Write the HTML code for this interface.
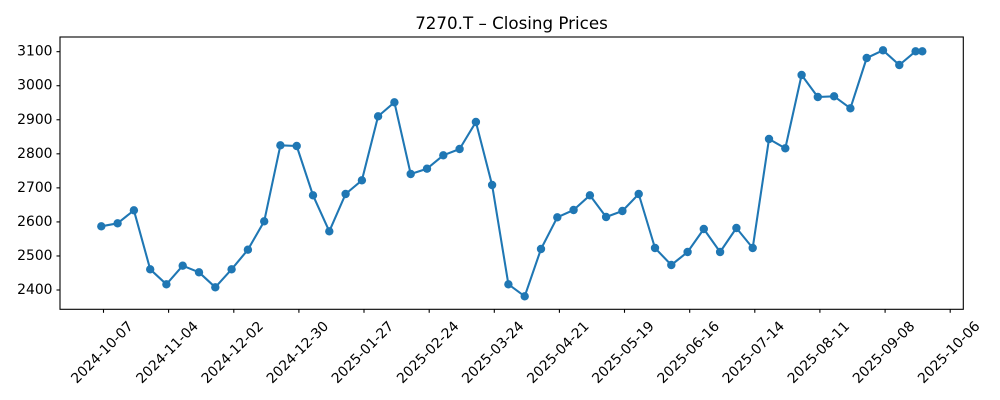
<!DOCTYPE html>
<html><head><meta charset="utf-8"><style>
html,body{margin:0;padding:0;background:#fff;}
svg{display:block;font-family:"DejaVu Sans","Liberation Sans",sans-serif;}
</style></head><body>
<svg width="1000" height="400" viewBox="0 0 1000 400" xmlns="http://www.w3.org/2000/svg">
<rect width="1000" height="400" fill="#fff"/>
<text x="511.5" y="29" font-size="16.7" text-anchor="middle" fill="#000">7270.T – Closing Prices</text>
<g stroke="#000" stroke-width="1.1">
<line x1="56.5" y1="51.67" x2="60" y2="51.67"/>
<line x1="56.5" y1="85.72" x2="60" y2="85.72"/>
<line x1="56.5" y1="119.77" x2="60" y2="119.77"/>
<line x1="56.5" y1="153.82" x2="60" y2="153.82"/>
<line x1="56.5" y1="187.87" x2="60" y2="187.87"/>
<line x1="56.5" y1="221.92" x2="60" y2="221.92"/>
<line x1="56.5" y1="255.97" x2="60" y2="255.97"/>
<line x1="56.5" y1="290" x2="60" y2="290"/>
</g>
<g font-size="13.9" text-anchor="end" dominant-baseline="central" fill="#000">
<text x="52.5" y="51.67">3100</text>
<text x="52.5" y="85.72">3000</text>
<text x="52.5" y="119.77">2900</text>
<text x="52.5" y="153.82">2800</text>
<text x="52.5" y="187.87">2700</text>
<text x="52.5" y="221.92">2600</text>
<text x="52.5" y="255.97">2500</text>
<text x="52.5" y="290">2400</text>
</g>
<g stroke="#000" stroke-width="1.1">
<line x1="103.5" y1="309.3" x2="103.5" y2="312.8"/>
<line x1="168.6" y1="309.3" x2="168.6" y2="312.8"/>
<line x1="233.8" y1="309.3" x2="233.8" y2="312.8"/>
<line x1="298.9" y1="309.3" x2="298.9" y2="312.8"/>
<line x1="364.0" y1="309.3" x2="364.0" y2="312.8"/>
<line x1="429.2" y1="309.3" x2="429.2" y2="312.8"/>
<line x1="494.3" y1="309.3" x2="494.3" y2="312.8"/>
<line x1="559.4" y1="309.3" x2="559.4" y2="312.8"/>
<line x1="624.5" y1="309.3" x2="624.5" y2="312.8"/>
<line x1="689.7" y1="309.3" x2="689.7" y2="312.8"/>
<line x1="754.8" y1="309.3" x2="754.8" y2="312.8"/>
<line x1="819.9" y1="309.3" x2="819.9" y2="312.8"/>
<line x1="885.1" y1="309.3" x2="885.1" y2="312.8"/>
<line x1="950.2" y1="309.3" x2="950.2" y2="312.8"/>
</g>
<g font-size="13.9" text-anchor="middle" dominant-baseline="central" fill="#000">
<text transform="translate(102.5,352.7) rotate(-45)">2024-10-07</text>
<text transform="translate(167.6,352.7) rotate(-45)">2024-11-04</text>
<text transform="translate(232.8,352.7) rotate(-45)">2024-12-02</text>
<text transform="translate(297.9,352.7) rotate(-45)">2024-12-30</text>
<text transform="translate(363.0,352.7) rotate(-45)">2025-01-27</text>
<text transform="translate(428.2,352.7) rotate(-45)">2025-02-24</text>
<text transform="translate(493.3,352.7) rotate(-45)">2025-03-24</text>
<text transform="translate(558.4,352.7) rotate(-45)">2025-04-21</text>
<text transform="translate(623.5,352.7) rotate(-45)">2025-05-19</text>
<text transform="translate(688.7,352.7) rotate(-45)">2025-06-16</text>
<text transform="translate(753.8,352.7) rotate(-45)">2025-07-14</text>
<text transform="translate(818.9,352.7) rotate(-45)">2025-08-11</text>
<text transform="translate(884.1,352.7) rotate(-45)">2025-09-08</text>
<text transform="translate(949.2,352.7) rotate(-45)">2025-10-06</text>
</g>
<polyline fill="none" stroke="#1f77b4" stroke-width="2.08" stroke-linejoin="round" points="101.3,226.3 117.6,223.3 133.9,210.3 150.2,269.3 166.4,284.3 182.7,265.7 199.0,272.3 215.3,287.3 231.6,269.3 247.9,249.7 264.2,221.3 280.4,145.3 296.7,146 313.0,195.3 329.3,231.3 345.6,194 361.9,180.3 378.1,116.3 394.4,102.3 410.7,174 427.0,168.7 443.3,155.3 459.6,149 475.9,122 492.1,185 508.4,284.3 524.7,296.3 541.0,249 557.3,217.3 573.6,210 589.9,195.3 606.1,217 622.4,211 638.7,194 655.0,248 671.3,265 687.6,252 703.8,229 720.1,252 736.4,228 752.7,248 769.0,139 785.3,148.3 801.6,75 817.8,97 834.1,96.3 850.4,108.3 866.7,58 883.0,50.3 899.3,65 915.6,51.3 922.3,51.3"/>
<g fill="#1f77b4">
<circle cx="101.3" cy="226.3" r="4.2"/><circle cx="117.6" cy="223.3" r="4.2"/><circle cx="133.9" cy="210.3" r="4.2"/><circle cx="150.2" cy="269.3" r="4.2"/><circle cx="166.4" cy="284.3" r="4.2"/><circle cx="182.7" cy="265.7" r="4.2"/><circle cx="199.0" cy="272.3" r="4.2"/><circle cx="215.3" cy="287.3" r="4.2"/><circle cx="231.6" cy="269.3" r="4.2"/><circle cx="247.9" cy="249.7" r="4.2"/><circle cx="264.2" cy="221.3" r="4.2"/><circle cx="280.4" cy="145.3" r="4.2"/><circle cx="296.7" cy="146" r="4.2"/><circle cx="313.0" cy="195.3" r="4.2"/><circle cx="329.3" cy="231.3" r="4.2"/><circle cx="345.6" cy="194" r="4.2"/><circle cx="361.9" cy="180.3" r="4.2"/><circle cx="378.1" cy="116.3" r="4.2"/><circle cx="394.4" cy="102.3" r="4.2"/><circle cx="410.7" cy="174" r="4.2"/><circle cx="427.0" cy="168.7" r="4.2"/><circle cx="443.3" cy="155.3" r="4.2"/><circle cx="459.6" cy="149" r="4.2"/><circle cx="475.9" cy="122" r="4.2"/><circle cx="492.1" cy="185" r="4.2"/><circle cx="508.4" cy="284.3" r="4.2"/><circle cx="524.7" cy="296.3" r="4.2"/><circle cx="541.0" cy="249" r="4.2"/><circle cx="557.3" cy="217.3" r="4.2"/><circle cx="573.6" cy="210" r="4.2"/><circle cx="589.9" cy="195.3" r="4.2"/><circle cx="606.1" cy="217" r="4.2"/><circle cx="622.4" cy="211" r="4.2"/><circle cx="638.7" cy="194" r="4.2"/><circle cx="655.0" cy="248" r="4.2"/><circle cx="671.3" cy="265" r="4.2"/><circle cx="687.6" cy="252" r="4.2"/><circle cx="703.8" cy="229" r="4.2"/><circle cx="720.1" cy="252" r="4.2"/><circle cx="736.4" cy="228" r="4.2"/><circle cx="752.7" cy="248" r="4.2"/><circle cx="769.0" cy="139" r="4.2"/><circle cx="785.3" cy="148.3" r="4.2"/><circle cx="801.6" cy="75" r="4.2"/><circle cx="817.8" cy="97" r="4.2"/><circle cx="834.1" cy="96.3" r="4.2"/><circle cx="850.4" cy="108.3" r="4.2"/><circle cx="866.7" cy="58" r="4.2"/><circle cx="883.0" cy="50.3" r="4.2"/><circle cx="899.3" cy="65" r="4.2"/><circle cx="915.6" cy="51.3" r="4.2"/><circle cx="922.3" cy="51.3" r="4.2"/>
</g>
<rect x="60" y="37" width="903.3" height="272.3" fill="none" stroke="#000" stroke-width="1.1"/>
</svg>
</body></html>
